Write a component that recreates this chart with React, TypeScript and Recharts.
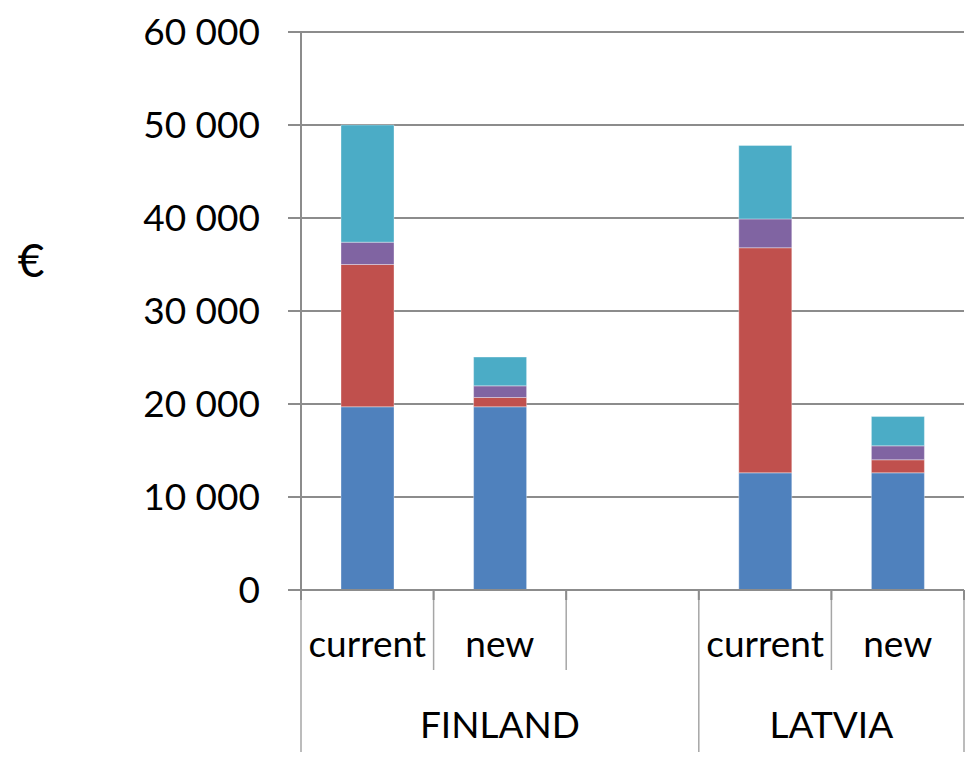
import React from "react";
import { Bar, BarChart, CartesianGrid, Label, XAxis, YAxis } from "recharts";

const categories = ["current", "new", "", "current", "new"];
const groups = ["FINLAND", "FINLAND", "FINLAND", "LATVIA", "LATVIA"];

// stacked parts, bottom to top
const part1 = [19700, 19700, null, 12600, 12600];
const part2 = [15300, 1000, null, 24200, 1400];
const part3 = [2400, 1250, null, 3100, 1500];
const part4 = [12600, 3100, null, 7900, 3150];

const yTicks = [0, 10000, 20000, 30000, 40000, 50000, 60000];

const rows = categories.map((cat, i) => ({
  key: `${groups[i]}|${cat}|${i}`,
  part1: part1[i],
  part2: part2[i],
  part3: part3[i],
  part4: part4[i]
}));

const W = 970;
const H = 757;
const AXIS_W = 301;
const RIGHT = 6;
const band = (W - AXIS_W - RIGHT) / rows.length;

const FONT = "Lato, 'Open Sans', sans-serif";
const GRID = "#8C8C8C";
const SEP = "#A6A6A6";

const fmt = (v: number) => String(v).replace(/\B(?=(\d{3})+(?!\d))/g, " ");

function CategoryTick(props: any) {
  const { x, y, payload } = props;
  const i = rows.findIndex((r) => r.key === payload.value);
  const left = x - band / 2;
  const startsGroup = i === 0 || groups[i] !== groups[i - 1];
  const isLast = i === rows.length - 1;
  const groupSize = groups.filter((g) => g === groups[i]).length;
  return (
    <g>
      <line x1={left} x2={left} y1={y} y2={y + (startsGroup ? 162 : 80)} stroke={SEP} strokeWidth={1.5} />
      <line x1={left} x2={left} y1={y} y2={y + 10} stroke={GRID} strokeWidth={2} />
      {isLast && (
        <>
          <line x1={left + band} x2={left + band} y1={y} y2={y + 162} stroke={SEP} strokeWidth={1.5} />
          <line x1={left + band} x2={left + band} y1={y} y2={y + 10} stroke={GRID} strokeWidth={2} />
        </>
      )}
      <text x={x} y={y + 67} textAnchor="middle" fontSize={37} fill="#000" fontFamily={FONT}>
        {categories[i]}
      </text>
      {startsGroup && (
        <text x={x + ((groupSize - 1) / 2) * band} y={y + 148} textAnchor="middle" fontSize={37} fill="#000" fontFamily={FONT}>
          {groups[i]}
        </text>
      )}
    </g>
  );
}

export default function App() {
  return (
    <div style={{ position: "absolute", left: 0, top: 0, background: "#fff" }}>
      <BarChart
        width={W}
        height={H}
        data={rows}
        margin={{ top: 32, right: RIGHT, bottom: 0, left: 0 }}
        barSize={53}
        style={{ fontFamily: FONT }}
      >
        <CartesianGrid vertical={false} stroke={GRID} strokeWidth={2} strokeDasharray="" />
        <XAxis
          dataKey="key"
          height={167}
          interval={0}
          tickLine={false}
          tickSize={0}
          tickMargin={0}
          axisLine={{ stroke: GRID, strokeWidth: 2 }}
          tick={<CategoryTick />}
        />
        <YAxis
          width={AXIS_W}
          domain={[0, 60000]}
          ticks={yTicks}
          interval={0}
          tickFormatter={fmt}
          tickSize={13}
          tickMargin={28}
          tickLine={{ stroke: GRID, strokeWidth: 2 }}
          axisLine={{ stroke: GRID, strokeWidth: 2 }}
          tick={{ fontSize: 37, fill: "#000", fontFamily: FONT }}
        >
          <Label
            content={({ viewBox }: any) => (
              <text x={viewBox.x + 31} y={viewBox.y + 245} textAnchor="middle" fontSize={46} fill="#000" fontFamily={FONT}>
                €
              </text>
            )}
          />
        </YAxis>
        <Bar dataKey="part1" stackId="s" fill="#4F81BD" stroke="#ffffff" strokeOpacity={0.35} strokeWidth={1} isAnimationActive={false} />
        <Bar dataKey="part2" stackId="s" fill="#C0504D" stroke="#ffffff" strokeOpacity={0.35} strokeWidth={1} isAnimationActive={false} />
        <Bar dataKey="part3" stackId="s" fill="#8064A2" stroke="#ffffff" strokeOpacity={0.35} strokeWidth={1} isAnimationActive={false} />
        <Bar dataKey="part4" stackId="s" fill="#4BACC6" stroke="#ffffff" strokeOpacity={0.35} strokeWidth={1} isAnimationActive={false} />
      </BarChart>
    </div>
  );
}
